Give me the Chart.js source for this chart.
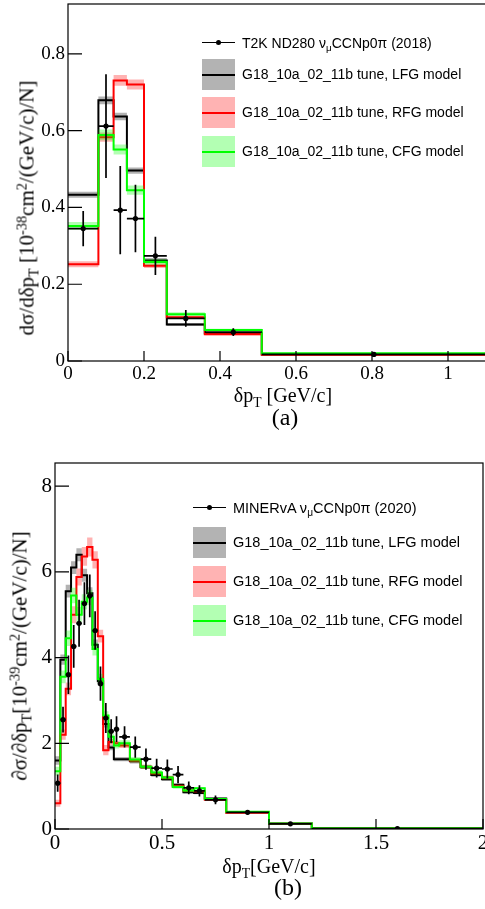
<!DOCTYPE html>
<html>
<head>
<meta charset="utf-8">
<script src="https://cdn.jsdelivr.net/npm/chart.js@4.4.1/dist/chart.umd.min.js"></script>
<style>
  html, body { margin: 0; padding: 0; background: #fff; }
  body { width: 485px; height: 909px; overflow: hidden; position: relative; }
  .panel { position: absolute; left: 0; }
  .panel canvas { display: block; }
  .txt { position: absolute; font-family: 'Liberation Serif', 'Times New Roman', serif; color: #000;
         white-space: nowrap; line-height: 1; transform: translate(-50%, -50%); }
  .ytitle { transform: translate(-50%, -50%) rotate(-90deg); }
  .sub { font-size: 68%; position: relative; top: 0.35em; }
  .sup { font-size: 68%; position: relative; top: -0.5em; }
  .leg { position: absolute; font-family: 'Liberation Sans', Arial, sans-serif; color: #000; white-space: nowrap; }
  .leg .sw { position: absolute; left: 0; width: 33px; height: 31px; }
  .leg .sw i { position: absolute; left: 0; right: 0; top: 50%; height: 2px; margin-top: -1px; }
  .leg .sw b { position: absolute; left: 50%; top: 50%; width: 5px; height: 5px; margin: -2.5px 0 0 -2.5px; border-radius: 50%; background: #000; }
  .leg .lab { position: absolute; transform: translateY(-50%); line-height: 1; }
  .leg .lab .sub { font-size: 70%; top: 0.3em; }
</style>
</head>
<body>

<div class="panel" style="top:0"><canvas id="chartA" width="490" height="430"></canvas></div>
<div class="panel" style="top:440px"><canvas id="chartB" width="490" height="469"></canvas></div>

<div class="txt ytitle" style="left:27px; top:208px; font-size:21px">dσ/dδp<span class="sub">T</span> [10<span class="sup">-38</span>cm<span class="sup">2</span>/(GeV/c)/N]</div>
<div class="txt" style="left:283px; top:395px; font-size:20px">δp<span class="sub">T</span> [GeV/c]</div>
<div class="txt" style="left:285px; top:417px; font-size:24px">(a)</div>

<div class="txt ytitle" style="left:20px; top:656px; font-size:21px">∂σ/∂δp<span class="sub">T</span>[10<span class="sup">-39</span>cm<span class="sup">2</span>/(GeV/c)/N]</div>
<div class="txt" style="left:269px; top:866px; font-size:20px">δp<span class="sub">T</span>[GeV/c]</div>
<div class="txt" style="left:288px; top:887px; font-size:24px">(b)</div>

<div class="leg" style="left:202px; top:0; font-size:14px">
  <div class="sw" style="top:27px"><i style="background:#000;height:1.5px"></i><b></b></div>
  <div class="lab" style="left:40px; top:43px">T2K ND280 ν<span class="sub">μ</span>CCNp0π (2018)</div>
  <div class="sw" style="top:59px; background:#b3b3b3"><i style="background:#000"></i></div>
  <div class="lab" style="left:40px; top:74px">G18_10a_02_11b tune, LFG model</div>
  <div class="sw" style="top:97px; background:#ffb3b3"><i style="background:#f00"></i></div>
  <div class="lab" style="left:40px; top:112px">G18_10a_02_11b tune, RFG model</div>
  <div class="sw" style="top:136px; background:#b3ffb3"><i style="background:#0f0"></i></div>
  <div class="lab" style="left:40px; top:151px">G18_10a_02_11b tune, CFG model</div>
</div>

<div class="leg" style="left:193px; top:0; font-size:14.5px">
  <div class="sw" style="top:492px"><i style="background:#000;height:1.5px"></i><b></b></div>
  <div class="lab" style="left:40px; top:508px">MINERvA ν<span class="sub">μ</span>CCNp0π (2020)</div>
  <div class="sw" style="top:527px; background:#b3b3b3"><i style="background:#000"></i></div>
  <div class="lab" style="left:40px; top:542px">G18_10a_02_11b tune, LFG model</div>
  <div class="sw" style="top:566px; background:#ffb3b3"><i style="background:#f00"></i></div>
  <div class="lab" style="left:40px; top:581px">G18_10a_02_11b tune, RFG model</div>
  <div class="sw" style="top:605px; background:#b3ffb3"><i style="background:#0f0"></i></div>
  <div class="lab" style="left:40px; top:620px">G18_10a_02_11b tune, CFG model</div>
</div>

<script>
// (a) T2K bins
const edgesA = [0, 0.08, 0.12, 0.155, 0.2, 0.26, 0.36, 0.51, 1.1];
const dataA = [0.345, 0.612, 0.393, 0.371, 0.274, 0.111, 0.075, 0.017];
const dataErrA = [0.046, 0.135, 0.115, 0.088, 0.05, 0.022, 0.01, 0.004];
const lfgA = [0.433, 0.679, 0.637, 0.496, 0.262, 0.095, 0.072, 0.017];
const lfgErrA = [0.008, 0.01, 0.01, 0.008, 0.006, 0.004, 0.003, 0.001];
const rfgA = [0.252, 0.583, 0.731, 0.72, 0.248, 0.114, 0.07, 0.016];
const rfgErrA = [0.008, 0.012, 0.014, 0.013, 0.006, 0.004, 0.003, 0.001];
const cfgA = [0.352, 0.589, 0.551, 0.445, 0.258, 0.122, 0.081, 0.02];
const cfgErrA = [0.01, 0.014, 0.013, 0.012, 0.007, 0.005, 0.003, 0.001];
const xTicksA = [0, 0.2, 0.4, 0.6, 0.8, 1];
const xLabelsA = ['0', '0.2', '0.4', '0.6', '0.8', '1'];
const yTicksA = [0, 0.2, 0.4, 0.6, 0.8];
const yLabelsA = ['0', '0.2', '0.4', '0.6', '0.8'];

// (b) MINERvA bins
const edgesB = [0, 0.025, 0.05, 0.075, 0.1, 0.125, 0.15, 0.175, 0.2, 0.225, 0.25, 0.275, 0.3,
  0.35, 0.4, 0.45, 0.5, 0.55, 0.6, 0.65, 0.7, 0.8, 1.0, 1.2, 2.0];
const dataB = [1.07, 2.55, 3.6, 4.26, 4.8, 5.26, 5.44, 4.63, 3.39, 2.59, 2.28, 2.33, 2.15,
  1.91, 1.63, 1.42, 1.4, 1.27, 0.96, 0.89, 0.68, 0.39, 0.12, 0.01];
const dataErrB = [0.2, 0.3, 0.45, 0.5, 0.55, 0.5, 0.5, 0.45, 0.4, 0.35, 0.28, 0.3, 0.25,
  0.25, 0.25, 0.22, 0.22, 0.2, 0.15, 0.13, 0.1, 0.05, 0.02, 0.005];
const lfgB = [1.6, 3.95, 5.55, 6.1, 6.4, 5.92, 5.5, 4.3, 3.45, 2.45, 1.9, 1.63, 1.63,
  1.58, 1.44, 1.26, 1.16, 1.03, 0.86, 0.84, 0.71, 0.39, 0.13, 0.02];
const lfgErrB = [0.1, 0.12, 0.15, 0.15, 0.15, 0.15, 0.14, 0.12, 0.1, 0.08, 0.06, 0.05, 0.05,
  0.05, 0.04, 0.04, 0.04, 0.03, 0.03, 0.03, 0.02, 0.015, 0.01, 0.005];
const rfgB = [0.6, 2.2, 3.27, 5.0, 5.88, 6.36, 6.58, 6.28, 4.5, 1.84, 2.03, 2.0, 1.95,
  1.6, 1.45, 1.3, 1.2, 1.0, 0.9, 0.88, 0.68, 0.38, 0.12, 0.01];
const rfgErrB = [0.08, 0.12, 0.15, 0.2, 0.2, 0.22, 0.22, 0.2, 0.15, 0.12, 0.07, 0.06, 0.06,
  0.05, 0.05, 0.04, 0.04, 0.04, 0.03, 0.03, 0.02, 0.015, 0.01, 0.005];
const cfgB = [1.35, 3.55, 4.45, 5.45, 5.0, 5.3, 5.4, 4.2, 3.5, 2.65, 2.15, 1.95, 2.0,
  1.62, 1.45, 1.32, 1.2, 0.98, 0.9, 0.95, 0.7, 0.4, 0.13, 0.02];
const cfgErrB = [0.1, 0.15, 0.18, 0.18, 0.18, 0.18, 0.18, 0.15, 0.12, 0.1, 0.08, 0.07, 0.07,
  0.06, 0.05, 0.05, 0.04, 0.04, 0.04, 0.03, 0.03, 0.02, 0.01, 0.005];
const xTicksB = [0, 0.5, 1, 1.5, 2];
const xLabelsB = ['0', '0.5', '1', '1.5', '2'];
const yTicksB = [0, 2, 4, 6, 8];
const yLabelsB = ['0', '2', '4', '6', '8'];

const black = '#000000';
const red = '#ff0000';
const green = '#00ff00';
const grayBand = 'rgba(102,102,102,0.5)';
const redBand = 'rgba(255,0,0,0.3)';
const greenBand = 'rgba(0,255,0,0.3)';

Chart.defaults.font.family = "'Liberation Serif', 'Times New Roman', serif";
Chart.defaults.color = '#000';

function histPoints(edges, vals) {
  const pts = [];
  vals.forEach((v, i) => {
    pts.push({ x: edges[i], y: v }, { x: edges[i + 1], y: v });
  });
  return pts;
}

function bandSets(edges, vals, errs, color, order) {
  const none = 'rgba(0,0,0,0)';
  return [
    { data: histPoints(edges, vals.map((v, i) => v - errs[i])), borderColor: none, borderWidth: 0,
      pointRadius: 0, fill: false, order },
    { data: histPoints(edges, vals.map((v, i) => v + errs[i])), borderColor: none, borderWidth: 0,
      pointRadius: 0, backgroundColor: color, fill: '-1', order }
  ];
}

function lineSet(edges, vals, color, order) {
  return { data: histPoints(edges, vals), borderColor: color, borderWidth: 2, pointRadius: 0,
    fill: false, tension: 0, order };
}

function dataSet(edges, vals, errs) {
  const pts = vals.map((v, i) => ({ x: (edges[i] + edges[i + 1]) / 2, y: v }));
  return { data: pts, showLine: false, pointRadius: 2.6, pointBackgroundColor: '#000',
    pointBorderWidth: 0, order: 0, yErr: errs, binEdges: edges };
}

const errorBars = {
  id: 'errorBars',
  afterDatasetsDraw(chart) {
    const { ctx, chartArea: a, scales: { x, y } } = chart;
    ctx.save();
    ctx.beginPath();
    ctx.rect(a.left, a.top, a.right - a.left, a.bottom - a.top);
    ctx.clip();
    ctx.strokeStyle = '#000';
    ctx.lineWidth = 1.7;
    chart.data.datasets.forEach(ds => {
      if (!ds.yErr) return;
      ds.data.forEach((p, i) => {
        const px = x.getPixelForValue(p.x);
        const py = y.getPixelForValue(p.y);
        ctx.beginPath();
        ctx.moveTo(px, y.getPixelForValue(p.y - ds.yErr[i]));
        ctx.lineTo(px, y.getPixelForValue(p.y + ds.yErr[i]));
        ctx.moveTo(x.getPixelForValue(ds.binEdges[i]), py);
        ctx.lineTo(x.getPixelForValue(ds.binEdges[i + 1]), py);
        ctx.stroke();
      });
    });
    ctx.restore();
  }
};

// ROOT-style frame with ticks pointing inward
const frameTicks = {
  id: 'frameTicks',
  afterDraw(chart) {
    const { ctx, chartArea: a, scales: { x, y } } = chart;
    ctx.save();
    ctx.strokeStyle = '#000';
    ctx.lineWidth = 1.2;
    ctx.strokeRect(a.left, a.top, a.right - a.left, a.bottom - a.top);
    ctx.beginPath();
    x.ticks.forEach(t => {
      const px = x.getPixelForValue(t.value);
      ctx.moveTo(px, a.bottom);
      ctx.lineTo(px, a.bottom - 10);
    });
    y.ticks.forEach(t => {
      const py = y.getPixelForValue(t.value);
      ctx.moveTo(a.left, py);
      ctx.lineTo(a.left + 14, py);
    });
    ctx.stroke();
    ctx.restore();
  }
};

function makePanel(canvasId, p) {
  const datasets = [
    dataSet(p.edges, p.data, p.dataErr),
    lineSet(p.edges, p.cfg, green, 1),
    ...bandSets(p.edges, p.cfg, p.cfgErr, greenBand, 2),
    lineSet(p.edges, p.rfg, red, 3),
    ...bandSets(p.edges, p.rfg, p.rfgErr, redBand, 4),
    lineSet(p.edges, p.lfg, black, 5),
    ...bandSets(p.edges, p.lfg, p.lfgErr, grayBand, 6)
  ];
  new Chart(document.getElementById(canvasId), {
    type: 'line',
    data: { datasets },
    options: {
      responsive: false,
      animation: false,
      events: [],
      layout: { padding: p.padding },
      plugins: { legend: { display: false }, tooltip: { enabled: false } },
      scales: {
        x: {
          type: 'linear', min: 0, max: p.xMax,
          grid: { display: false, drawTicks: false, tickLength: 0 }, border: { display: false },
          afterBuildTicks: s => { s.ticks = p.xTicks.map(v => ({ value: v })); },
          afterFit: s => { s.height = 30; s.paddingLeft = 0; s.paddingRight = 0; },
          ticks: { autoSkip: false, maxRotation: 0, padding: 2, font: { size: p.tickSize },
            callback: (v, i) => p.xLabels[i] }
        },
        y: {
          type: 'linear', min: 0, max: p.yMax,
          grid: { display: false, drawTicks: false, tickLength: 0 }, border: { display: false },
          afterBuildTicks: s => { s.ticks = p.yTicks.map(v => ({ value: v })); },
          afterFit: s => { s.width = p.yWidth; s.paddingTop = 0; s.paddingBottom = 0; },
          ticks: { autoSkip: false, padding: 3, font: { size: p.tickSize },
            callback: (v, i) => p.yLabels[i] }
        }
      }
    },
    plugins: [errorBars, frameTicks]
  });
}

makePanel('chartA', {
  edges: edgesA, data: dataA, dataErr: dataErrA,
  lfg: lfgA, lfgErr: lfgErrA, rfg: rfgA, rfgErr: rfgErrA, cfg: cfgA, cfgErr: cfgErrA,
  xTicks: xTicksA, xLabels: xLabelsA, yTicks: yTicksA, yLabels: yLabelsA,
  xMax: 1.1, yMax: 0.93, yWidth: 68, tickSize: 19,
  padding: { top: 4, left: 0, right: 4, bottom: 39 }
});

makePanel('chartB', {
  edges: edgesB, data: dataB, dataErr: dataErrB,
  lfg: lfgB, lfgErr: lfgErrB, rfg: rfgB, rfgErr: rfgErrB, cfg: cfgB, cfgErr: cfgErrB,
  xTicks: xTicksB, xLabels: xLabelsB, yTicks: yTicksB, yLabels: yLabelsB,
  xMax: 2, yMax: 8.54, yWidth: 55, tickSize: 21,
  padding: { top: 23, left: 0, right: 7, bottom: 50 }
});
</script>
</body>
</html>
